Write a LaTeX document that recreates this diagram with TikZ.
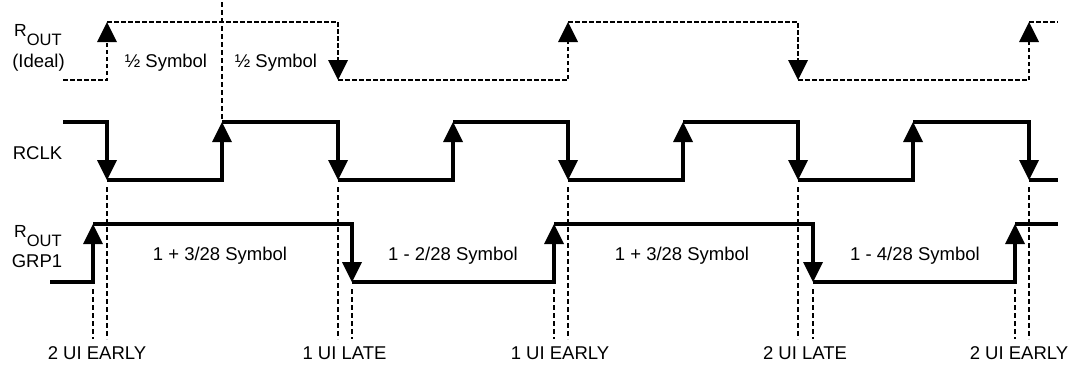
\documentclass[tikz,border=0pt]{standalone}
\usepackage{fontspec}
\setmainfont{Liberation Sans}
\begin{document}
\begin{tikzpicture}[x=1pt,y=-1pt,
  wave/.style={line width=4.5pt,line join=miter,line cap=butt},
  ideal/.style={line width=2.4pt,dash pattern=on 4.5pt off 2.5pt,line join=miter},
  guide/.style={line width=1.5pt,dash pattern=on 5pt off 3pt},
  lbl/.style={inner sep=0pt,font=\fontsize{18.5}{22}\selectfont},
  pics/uptip/.style={code={\fill (0,0) -- (-10,20) -- (10,20) -- cycle;}},
  pics/downtip/.style={code={\fill (0,0) -- (-10,-20) -- (10,-20) -- cycle;}}
]
\useasboundingbox (0,0) rectangle (1082,368);

% ---------- R_OUT (Ideal), dashed ----------
\draw[ideal] (63,80) -- (107,80) -- (107,42);
\draw[ideal] (107,22) -- (338,22) -- (338,60);
\draw[ideal] (338,80) -- (568,80) -- (568,42);
\draw[ideal] (568,22) -- (798,22) -- (798,60);
\draw[ideal] (798,80) -- (1029,80) -- (1029,42);
\draw[ideal] (1029,22) -- (1058,22);
\pic at (107,22) {uptip};
\pic at (338,80) {downtip};
\pic at (568,22) {uptip};
\pic at (798,80) {downtip};
\pic at (1029,22) {uptip};

% middle guide line
\draw[guide,line width=1.7pt] (222,2) -- (222,121);

% ---------- RCLK ----------
\draw[wave] (63,122) -- (107,122) -- (107,160);
\draw[wave] (107,180) -- (222,180) -- (222,142);
\draw[wave] (222,122) -- (338,122) -- (338,160);
\draw[wave] (338,180) -- (453,180) -- (453,142);
\draw[wave] (453,122) -- (568,122) -- (568,160);
\draw[wave] (568,180) -- (683,180) -- (683,142);
\draw[wave] (683,122) -- (798,122) -- (798,160);
\draw[wave] (798,180) -- (913,180) -- (913,142);
\draw[wave] (913,122) -- (1029,122) -- (1029,160);
\draw[wave] (1029,180) -- (1058,180);
\foreach \x in {107,338,568,798,1029} \pic at (\x,180) {downtip};
\foreach \x in {222,453,683,913} \pic at (\x,122) {uptip};

% ---------- R_OUT GRP1 ----------
\draw[wave] (50,282) -- (93,282) -- (93,244);
\draw[wave] (93,224) -- (352,224) -- (352,262);
\draw[wave] (352,282) -- (554,282) -- (554,244);
\draw[wave] (554,224) -- (813,224) -- (813,262);
\draw[wave] (813,282) -- (1015,282) -- (1015,244);
\draw[wave] (1015,224) -- (1058,224);
\foreach \x in {93,554,1015} \pic at (\x,224) {uptip};
\foreach \x in {352,813} \pic at (\x,282) {downtip};

% ---------- guide lines ----------
\foreach \x in {107,338,568,798,1029} \draw[guide] (\x,187) -- (\x,339);
\foreach \x in {93,352,554,813,1015} \draw[guide] (\x,289) -- (\x,339);

% ---------- labels ----------
\node[lbl,anchor=base west] (ridR) at (14,36.7) {\fontsize{17.5}{20}\selectfont R\raisebox{-8.3pt}{\fontsize{16.5}{18}\selectfont OUT}};
\node[lbl,anchor=base] (ridI) at (38.5,67) {(Ideal)};
\node[lbl,anchor=base] (rclk) at (37.5,159.5) {RCLK};
\node[lbl,anchor=base west] (grpR) at (14,237.7) {\fontsize{17.5}{20}\selectfont R\raisebox{-8.3pt}{\fontsize{16.5}{18}\selectfont OUT}};
\node[lbl,anchor=base] (grpG) at (37,267) {GRP1};

\node[lbl,anchor=base] (h1) at (166,67.3) {½ Symbol};
\node[lbl,anchor=base] (h2) at (276,67.3) {½ Symbol};

\node[lbl,anchor=base] (s1) at (220,260) {1 + 3/28 Symbol};
\node[lbl,anchor=base] (s2) at (453,260) {1 - 2/28 Symbol};
\node[lbl,anchor=base] (s3) at (682,260) {1 + 3/28 Symbol};
\node[lbl,anchor=base] (s4) at (915,260) {1 - 4/28 Symbol};

\node[lbl,anchor=base] (b1) at (97,359.5) {2 UI EARLY};
\node[lbl,anchor=base] (b2) at (344.5,359.5) {1 UI LATE};
\node[lbl,anchor=base] (b3) at (560,359.5) {1 UI EARLY};
\node[lbl,anchor=base] (b4) at (805,359.5) {2 UI LATE};
\node[lbl,anchor=base] (b5) at (1019,359.5) {2 UI EARLY};
\end{tikzpicture}
\end{document}
